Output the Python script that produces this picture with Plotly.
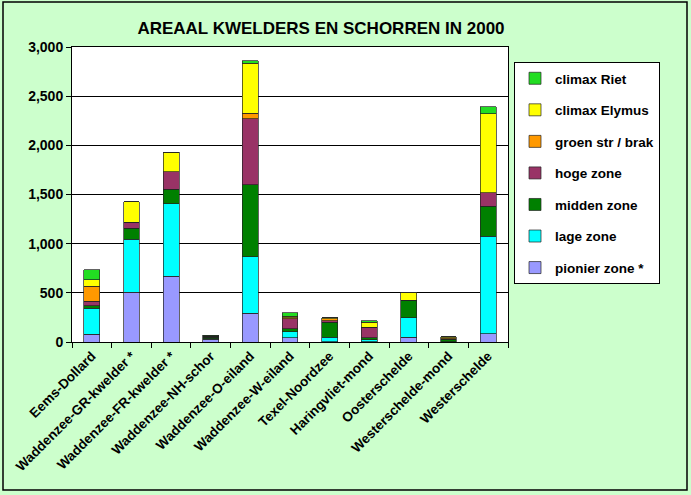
import plotly.graph_objects as go

# areal per gebied (ha), geschat uit de figuur
gebieden = ['Eems-Dollard', 'Waddenzee-GR-kwelder *', 'Waddenzee-FR-kwelder *',
            'Waddenzee-NH-schor', 'Waddenzee-O-eiland', 'Waddenzee-W-eiland',
            'Texel-Noordzee', 'Haringvliet-mond', 'Oosterschelde',
            'Westerschelde-mond', 'Westerschelde']

pionier_zone = [80, 505, 671, 30, 292, 45, 5, 5, 47, 0, 85]
lage_zone = [265, 540, 736, 5, 573, 57, 45, 20, 200, 3, 993]
midden_zone = [25, 111, 146, 15, 735, 35, 150, 20, 172, 25, 301]
hoge_zone = [45, 61, 179, 10, 670, 100, 15, 105, 5, 5, 139]
groen_str_brak = [150, 0, 0, 0, 57, 10, 20, 0, 0, 10, 0]
climax_elymus = [70, 207, 197, 5, 507, 17, 10, 50, 80, 10, 801]
climax_riet = [100, 0, 0, 5, 26, 35, 0, 17, 0, 0, 74]

series = [
    ('pionier zone *', pionier_zone, '#9999FF'),
    ('lage zone', lage_zone, '#00FFFF'),
    ('midden zone', midden_zone, '#008000'),
    ('hoge zone', hoge_zone, '#993366'),
    ('groen str / brak', groen_str_brak, '#FF9900'),
    ('climax Elymus', climax_elymus, '#FFFF00'),
    ('climax Riet', climax_riet, '#22DD22'),
]

W, H = 691, 495
L, R, T, B = 72, 183, 47, 153
pw, ph = W - L - R, H - T - B

fig = go.Figure()
for i, (naam, waarden, kleur) in enumerate(series):
    fig.add_trace(go.Bar(x=gebieden, y=waarden, name=naam, legendgroup=naam,
                         legendrank=len(series) - i,
                         marker=dict(color=kleur, line=dict(color='#222222', width=0.7))))

font = 'Arial, Liberation Sans, sans-serif'

fig.update_layout(
    width=W, height=H,
    margin=dict(l=L, r=R, t=T, b=B),
    barmode='stack', bargap=0.6,
    paper_bgcolor='#CCFFCC', plot_bgcolor='white',
    font=dict(family=font, color='black'),
    title=dict(text='AREAAL KWELDERS EN SCHORREN IN 2000', x=321 / W,
               xanchor='center', y=1 - 28 / H, yanchor='middle',
               font=dict(size=17, weight='bold')),
    legend=dict(x=(514 - L) / pw, xanchor='left', y=(342 - 62) / ph, yanchor='top',
                bgcolor='white', bordercolor='black', borderwidth=1,
                traceorder='grouped', tracegroupgap=11, itemwidth=30,
                font=dict(size=13.5, weight='bold')),
    xaxis=dict(type='category', tickson='boundaries', ticks='outside', ticklen=5,
               tickcolor='black', tickangle=-45, showline=True, linecolor='black',
               mirror=True, tickfont=dict(size=13.5, weight='bold')),
    yaxis=dict(range=[0, 3000], dtick=500, tickformat=',', ticks='outside', ticklen=5,
               tickcolor='black', showgrid=True, gridcolor='black', gridwidth=1,
               showline=True, linecolor='black', mirror=True,
               tickfont=dict(size=14, weight='bold')),
    shapes=[dict(type='rect', xref='paper', yref='paper',
                 x0=(3 - L) / pw, x1=(687 - L) / pw,
                 y0=(H - B - 490) / ph, y1=(H - B - 2) / ph,
                 line=dict(color='black', width=1.5), layer='below')],
)

# geen standaardmarge rond de pagina, zodat de figuur precies in het venster past
fig.write_html('out.html', config={'displayModeBar': False},
               post_script="document.body.style.margin='0';")
